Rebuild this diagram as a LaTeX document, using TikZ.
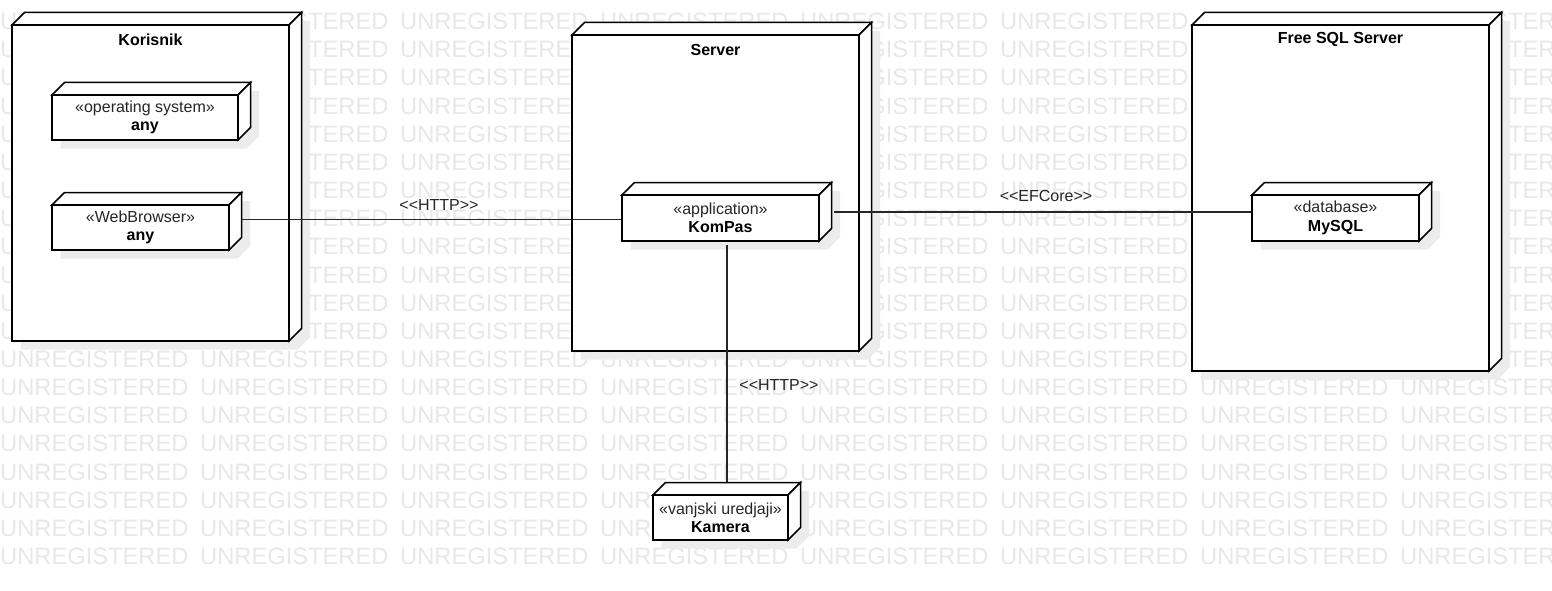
\documentclass[tikz,border=0pt]{standalone}
\usepackage{fontspec}
\setmainfont{Liberation Sans}
\usetikzlibrary{calc}
\definecolor{wmc}{gray}{0.91}
\definecolor{shadowc}{gray}{0.925}
\definecolor{inkc}{gray}{0.15}
\newcommand{\dd}{12.5}
\newcommand{\sh}{8.5}
\tikzset{
  wm/.style={text=wmc, font=\fontsize{23.7}{28}\selectfont, anchor=base west, inner sep=0pt},
  boxline/.style={line width=1.5pt, line join=miter, draw=black},
  frontbox/.style={draw=black, line width=1.5pt, fill=white, inner sep=0pt, align=center,
                   text=inkc, font=\fontsize{16}{18.4}\selectfont},
  titletext/.style={font=\fontsize{16}{18}\selectfont\bfseries, inner sep=0pt, text=black},
  conn/.style={draw=inkc, line width=1.3pt},
  lbl/.style={text=inkc, font=\fontsize{16}{18}\selectfont, inner sep=0pt},
}
% #1 name, #2 x1, #3 y1, #4 x2, #5 y2, #6 text
\newcommand{\dnode}[6]{%
  \fill[shadowc] (#2+\sh,#3+\sh) -- (#2+\dd+\sh,#3-\dd+\sh) -- (#4+\dd+\sh,#3-\dd+\sh)
     -- (#4+\dd+\sh,#5-\dd+\sh) -- (#4+\sh,#5+\sh) -- (#2+\sh,#5+\sh) -- cycle;
  \draw[boxline,fill=white] (#2,#3) -- (#2+\dd,#3-\dd) -- (#4+\dd,#3-\dd) -- (#4,#3) -- cycle;
  \draw[boxline,fill=white] (#4,#3) -- (#4+\dd,#3-\dd) -- (#4+\dd,#5-\dd) -- (#4,#5) -- cycle;
  \node[frontbox, minimum width={#4-#2}, minimum height={#5-#3}] (#1) at ({(#2+#4)/2},{(#3+#5)/2}) {#6};
}
\begin{document}
\begin{tikzpicture}[x=1pt,y=-1pt]
\useasboundingbox (0,0) rectangle (1552,591);
\fill[white] (0,0) rectangle (1552,591);
% watermark
\begin{scope}
  \clip (0,0) rectangle (1552,591);
  \foreach \r in {0,...,19}{
    \foreach \c in {0,...,7}{
      \node[wm] (wm-\r-\c) at (200*\c, 29.7+28.15*\r) {UNREGISTERED};
    }
  }
\end{scope}

% Korisnik
\dnode{kor}{12}{25}{289}{341}{}
\node[titletext] (korT) at ($(kor.north)+(0,15.7)$) {Korisnik};
\dnode{os}{52}{95}{238}{140}{«operating system»\\\textbf{\color{black}any}}
\dnode{web}{52}{205}{229}{250}{«WebBrowser»\\\textbf{\color{black}any}}

% Server
\dnode{srv}{572}{35}{859}{351}{}
\node[titletext] (srvT) at ($(srv.north)+(0,16)$) {Server};
\dnode{kompas}{622}{195}{819}{241}{«application»\\\textbf{\color{black}KomPas}}

% Free SQL Server
\dnode{sql}{1192}{25}{1489}{371}{}
\node[titletext] (sqlT) at ($(sql.north)+(0,15.3)$) {Free SQL Server};
\dnode{mysql}{1252}{195}{1419}{241}{«database»\\\textbf{\color{black}MySQL}}

% Kamera
\dnode{kam}{653}{495}{788}{540}{«vanjski uredjaji»\\\textbf{\color{black}Kamera}}

% connectors
\coordinate (webR) at ($(web.east)+(\dd,-8)$);
\draw[conn] (webR) -- (webR -| kompas.west);
\node[lbl] (l1) at (439,205) {<{}<HTTP>{}>};

\coordinate (kompR) at ($(kompas.east)+(\dd+2,-6)$);
\draw[conn] (kompR) -- (kompR -| mysql.west);
\node[lbl] (l2) at (1046,196) {<{}<EFCore>{}>};

\coordinate (kompB) at ($(kompas.south)+(6.5,3)$);
\coordinate (kamT) at ($(kam.north)+(0,-\dd)$);
\draw[conn] (kompB) -- (kompB |- kamT);
\node[lbl] (l3) at (779,385) {<{}<HTTP>{}>};
\end{tikzpicture}
\end{document}
